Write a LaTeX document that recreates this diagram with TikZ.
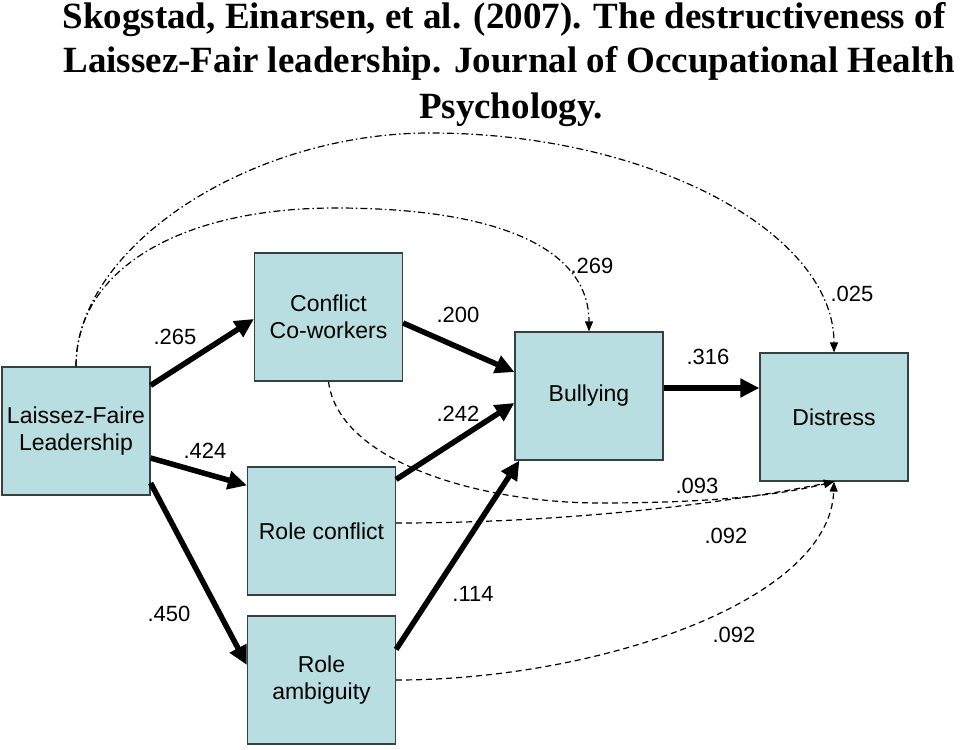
\documentclass[tikz,border=0pt]{standalone}
\usepackage{fontspec}
\setmainfont{Liberation Serif}
\newfontfamily\arialf{Liberation Sans}
\usetikzlibrary{arrows.meta}
\definecolor{boxfill}{RGB}{184,222,226}
\definecolor{boxline}{RGB}{55,65,65}
\tikzset{
  box/.style={draw=boxline, fill=boxfill, line width=1.2pt, minimum width=148pt, minimum height=128pt,
    inner sep=0pt, align=center, font=\arialf\fontsize{23}{27}\selectfont},
  num/.style={inner sep=0pt, font=\arialf\fontsize{22}{26}\selectfont},
  ttl/.style={inner sep=0pt, anchor=base, font=\bfseries\fontsize{37}{44}\selectfont},
  thickarr/.style={line width=5.5pt, -{Triangle[length=19pt,width=18pt]}},
  dasharr/.style={line width=1.2pt, dash pattern=on 6pt off 4pt, -{Triangle[length=10pt,width=8pt]}},
  dotarr/.style={line width=1.2pt, dash pattern=on 7pt off 3pt on 1.5pt off 3pt, -{Triangle[length=10pt,width=8pt]}}
}
\begin{document}
\begin{tikzpicture}[x=1pt,y=-1pt]
\useasboundingbox (0,0) rectangle (960,749);
\fill[white] (0,0) rectangle (960,749);
% title
\node[ttl] (t1) at (504,29) {Skogstad, Einarsen, et al. (2007). The destructiveness of};
\node[ttl] (t2) at (509,73) {Laissez-Fair leadership. Journal of Occupational Health};
\node[ttl] (t3) at (511,118) {Psychology.};
% boxes
\node[box] (lf) at (76,431) {Laissez-Faire\\Leadership};
\node[box] (cc) at (328.5,317) {Conflict\\Co-workers};
\node[box] (rc) at (321.5,531) {Role conflict};
\node[box] (ra) at (321.5,680) {Role\\ambiguity};
\node[box] (b) at (589,396) {Bullying};
\node[box] (d) at (834,417) {Distress};
% thick arrows
\draw[thickarr] ([yshift=-19pt]lf.north east) -- ([yshift=-2pt]cc.west);
\draw[thickarr] ([yshift=-27pt]lf.east) -- ([yshift=-19pt]rc.north west);
\draw[thickarr] ([yshift=-52pt]lf.east) -- ([yshift=15pt]ra.west);
\draw[thickarr] ([yshift=-6pt]cc.east) -- ([yshift=24pt]b.west);
\draw[thickarr] ([yshift=-13pt]rc.north east) -- ([yshift=-7pt]b.west);
\draw[thickarr] ([yshift=-34pt]ra.north east) -- ([xshift=5pt]b.south west);
\draw[thickarr] ([yshift=8pt]b.east) -- ([yshift=8pt]b.east -| d.west);
% dash-dot curves
\draw[dotarr] (lf.north) .. controls +(0,-100) and +(-150,0) .. (335,208) .. controls +(170,0) and +(0,-80) .. (b.north);
\draw[dotarr] (lf.north) .. controls +(0,-120) and +(-180,0) .. (430,133) .. controls +(220,0) and +(0,-120) .. (d.north);
% dashed curves
\draw[dasharr] (cc.south) .. controls +(10,80) and +(-120,0) .. (600,503) .. controls +(100,0) and +(-60,15) .. (d.south);
\draw[dasharr] ([yshift=8pt]rc.east) .. controls +(180,0) and +(-100,20) .. (d.south);
\draw[dasharr] (ra.east) .. controls +(200,0) and +(-4,120) .. (d.south);
% labels
\node[num] (n1) at (175,337) {.265};
\node[num] (n2) at (205,451) {.424};
\node[num] (n3) at (169,614) {.450};
\node[num] (n4) at (458,315) {.200};
\node[num] (n5) at (458,414) {.242};
\node[num] (n6) at (473,594) {.114};
\node[num] (n7) at (592,266) {.269};
\node[num] (n8) at (852,294) {.025};
\node[num] (n9) at (708,357) {.316};
\node[num] (n10) at (697,486) {.093};
\node[num] (n11) at (726,536) {.092};
\node[num] (n12) at (734,635) {.092};
\end{tikzpicture}
\end{document}
